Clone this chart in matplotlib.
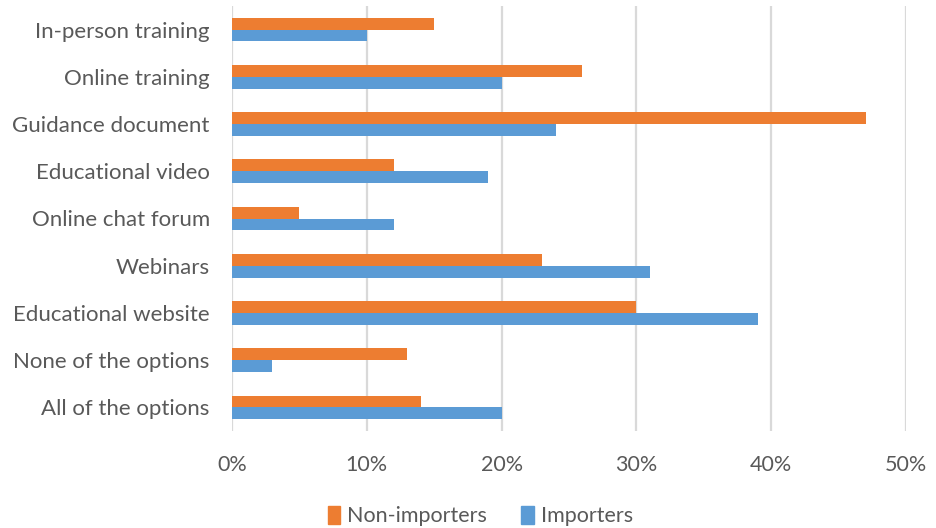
import matplotlib
matplotlib.use("Agg")
import matplotlib.pyplot as plt
from matplotlib.patches import Patch
import numpy as np

categories = [
    "In-person training",
    "Online training",
    "Guidance document",
    "Educational video",
    "Online chat forum",
    "Webinars",
    "Educational website",
    "None of the options",
    "All of the options",
]
non_importers = [15, 26, 47, 12, 5, 23, 30, 13, 14]
importers = [10, 20, 24, 19, 12, 31, 39, 3, 20]
tick_values = [0, 10, 20, 30, 40, 50]
tick_labels = ["0%", "10%", "20%", "30%", "40%", "50%"]

orange = "#ED7D31"
blue = "#5B9BD5"
text_color = "#595959"
grid_color = "#D9D9D9"

plt.rcParams["font.family"] = ["Lato", "DejaVu Sans"]

fig = plt.figure(figsize=(9.36, 5.28), dpi=100)
ax = fig.add_axes([232 / 936, 1 - 431 / 528, (906 - 232) / 936, (431 - 6) / 528])

y = np.arange(len(categories))
h = 0.25
ax.barh(y - h / 2, non_importers, height=h, color=orange, zorder=3, label="Non-importers")
ax.barh(y + h / 2, importers, height=h, color=blue, zorder=3, label="Importers")

ax.set_ylim(len(categories) - 0.5, -0.5)
ax.set_xlim(0, 50)
ax.set_xticks(tick_values)
ax.set_xticklabels(tick_labels)
ax.set_yticks(y)
ax.set_yticklabels(categories)

ax.grid(axis="x", color=grid_color, linewidth=1.6, zorder=0)
ax.grid(axis="y", visible=False)
for s in ax.spines.values():
    s.set_visible(False)
ax.tick_params(axis="both", length=0, labelcolor=text_color)
ax.tick_params(axis="y", labelsize=16, pad=16)
ax.tick_params(axis="x", labelsize=15.5, pad=17)

handles = [Patch(color=orange, label="Non-importers"), Patch(color=blue, label="Importers")]
fig.legend(handles=handles, loc="center", bbox_to_anchor=(0.513, 1 - 516 / 528), ncol=2,
           frameon=False, fontsize=15.5, labelcolor=text_color, handlelength=0.6,
           handleheight=0.9, handletextpad=0.3, columnspacing=1.6)

fig.savefig("out.png", dpi=100, facecolor="white")
